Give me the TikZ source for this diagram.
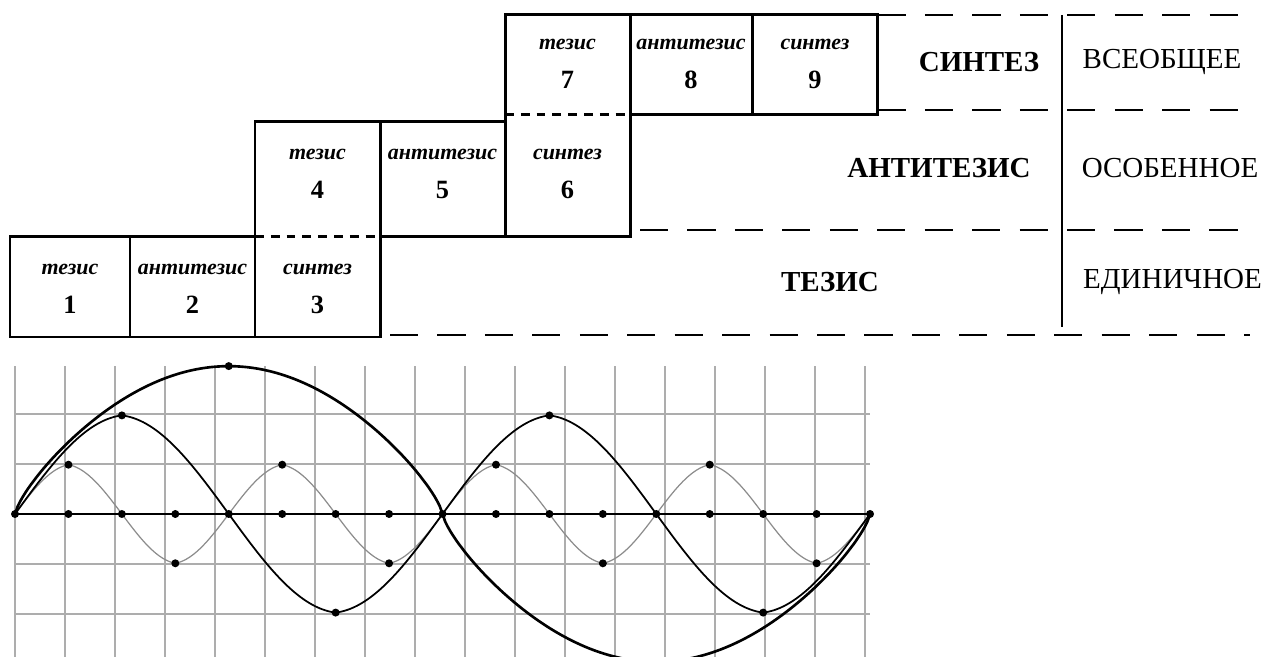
\documentclass[tikz,border=0pt]{standalone}
\usepackage{fontspec}
\setmainfont{Liberation Serif}
\usepackage{tikz}

\tikzset{
  wall/.style={line width=1.7pt},
  seam/.style={line width=1.7pt, dash pattern=on 5pt off 4pt},
  layer/.style={line width=0.7pt, dash pattern=on 16pt off 11pt},
  cell/.style={align=center, inner sep=0pt, font=\bfseries\fontsize{12.5}{22}\selectfont},
  stage/.style={inner sep=0pt, font=\bfseries\fontsize{16.5}{20}\selectfont},
  degree/.style={inner sep=0pt, font=\fontsize{16.5}{20}\selectfont},
  mesh/.style={black!32, line width=0.7pt},
  pt/.style={circle, fill=black, inner sep=0pt, minimum size=0.16cm}
}
\newcommand{\celltext}[2]{\textit{#1}\\{\fontsize{15}{22}\selectfont #2}}

\begin{document}
\begin{tikzpicture}
\useasboundingbox (0,0) rectangle (25.44,13.14);
% steps
\draw[wall] (5.1,8.4) -- (0.2,8.4) -- (0.2,6.4) -- (7.6,6.4) -- (7.6,8.4) -- (12.6,8.4) -- (12.6,10.84) -- (17.55,10.84) -- (17.55,12.84) -- (10.1,12.84) -- (10.1,10.7) -- (5.1,10.7) -- cycle;
\draw[wall] (2.6,6.4) -- (2.6,8.4);
\draw[wall] (5.1,6.4) -- (5.1,8.4);
\draw[wall] (7.6,8.4) -- (7.6,10.7);
\draw[wall] (10.1,10.7) -- (10.1,8.4);
\draw[wall] (12.6,10.84) -- (12.6,12.84);
\draw[wall] (15.05,10.84) -- (15.05,12.84);
\draw[seam] (5.1,8.4) -- (7.6,8.4);
\draw[seam] (10.1,10.84) -- (12.6,10.84);
\node[cell] (t1) at (1.4,7.36) {\celltext{тезис}{1}};
\node[cell] (a2) at (3.85,7.36) {\celltext{антитезис}{2}};
\node[cell] (s3) at (6.35,7.36) {\celltext{синтез}{3}};
\node[cell] (t4) at (6.35,9.66) {\celltext{тезис}{4}};
\node[cell] (a5) at (8.85,9.66) {\celltext{антитезис}{5}};
\node[cell] (s6) at (11.35,9.66) {\celltext{синтез}{6}};
\node[cell] (t7) at (11.35,11.86) {\celltext{тезис}{7}};
\node[cell] (a8) at (13.82,11.86) {\celltext{антитезис}{8}};
\node[cell] (s9) at (16.3,11.86) {\celltext{синтез}{9}};
% levels
\draw[layer] (17.55,12.84) -- (24.8,12.84);
\draw[layer] (17.55,10.94) -- (24.8,10.94);
\draw[layer] (12.8,8.54) -- (25.0,8.54);
\draw[layer] (7.8,6.44) -- (25.0,6.44);
\draw[line width=0.7pt] (21.24,12.84) -- (21.24,6.6);
\node[stage] (syn) at (19.58,11.9) {СИНТЕЗ};
\node[degree] (gen) at (23.24,11.9) {ВСЕОБЩЕЕ};
\node[stage] (ant) at (18.78,9.78) {АНТИТЕЗИС};
\node[degree] (spec) at (23.4,9.78) {ОСОБЕННОЕ};
\node[stage] (the) at (16.6,7.5) {ТЕЗИС};
\node[degree] (sing) at (23.45,7.5) {ЕДИНИЧНОЕ};
% waves
\begin{scope}[shift={(0.3,2.86)}, x=1.0688cm, y=0.986cm]
\draw[mesh] (0,-3) grid (16,3);
\draw[black!45, line width=0.7pt] plot[domain=0:16, samples=321] (\x, {sin(82*(1-abs(mod(\x+1,4)-2)))/sin(82)});
\draw[line width=1pt] plot[domain=0:16, samples=321] (\x, {2*sin(85*(1-abs(mod(\x/2+1,4)-2)))/sin(85)});
\draw[line width=1.5pt] plot[domain=0:16, samples=321] (\x, {3*sin(22.5*\x)/((abs(sin(22.5*\x))+0.001)^0.25)});
\foreach \i in {0,...,16} \node[pt] (o\i) at (\i,0) {};
\foreach \i/\j in {1/1,3/-1,5/1,7/-1,9/1,11/-1,13/1,15/-1,2/2,6/-2,10/2,14/-2,4/3,12/-3} \node[pt] (p\i) at (\i,\j) {};
\draw[line width=1.2pt] (o0.center) -- (o16.center);
\end{scope}
\end{tikzpicture}
\end{document}
